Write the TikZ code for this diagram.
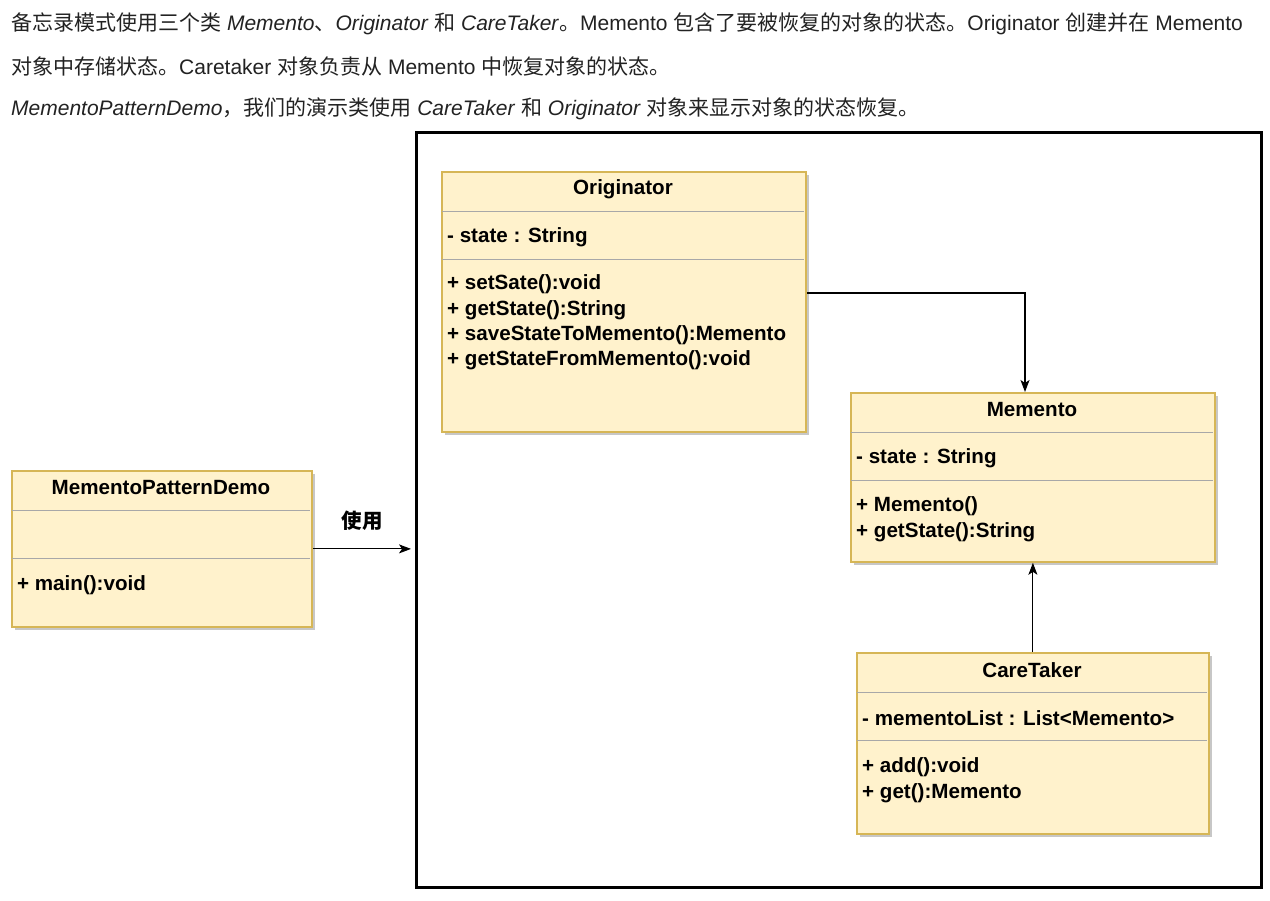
\documentclass[tikz,border=0pt]{standalone}
\usepackage{fontspec}
\setmainfont{Liberation Sans}
\newfontfamily\cjk{Noto Sans CJK SC}
\usetikzlibrary{arrows.meta,shadows,calc}
\definecolor{boxfill}{HTML}{FFF2CC}
\definecolor{boxline}{HTML}{D6B656}
\definecolor{sepline}{HTML}{A8A8A8}
\definecolor{txt}{HTML}{222222}
\begin{document}
\begin{tikzpicture}[x=1pt,y=-1pt,
  cls/.style={draw=boxline, fill=boxfill, line width=1.8pt, anchor=north west, inner sep=0pt,
    drop shadow={shadow xshift=3pt, shadow yshift=-3pt, fill=black!22, opacity=1}},
  sepl/.style={draw=sepline, line width=0.8pt},
  ctitle/.style={font=\fontsize{20.6}{24}\selectfont\bfseries, inner sep=0pt},
  cmem/.style={font=\fontsize{20.6}{24}\selectfont\bfseries, inner sep=0pt, anchor=west},
  htext/.style={font=\fontsize{21}{25}\selectfont, text=txt, inner sep=0pt, anchor=west},
  arr/.style={-{Stealth[length=12pt,width=9pt,inset=3pt]}, line width=1.1pt}]
\useasboundingbox (0,0) rectangle (1270,901);
\fill[white] (0,0) rectangle (1270,901);

% header text
\node[htext] (h1) at (11,24) {{\cjk 备忘录模式使用三个类} \textit{Memento}{\cjk 、}\textit{Originator} {\cjk 和} \textit{CareTaker}{\cjk 。}Memento {\cjk 包含了要被恢复的对象的状态。}Originator {\cjk 创建并在} Memento};
\node[htext] (h2) at (11,67) {{\cjk 对象中存储状态。}Caretaker {\cjk 对象负责从} Memento {\cjk 中恢复对象的状态。}};
\node[htext] (h3) at (11,109) {\textit{MementoPatternDemo}{\cjk ，我们的演示类使用} \textit{CareTaker} {\cjk 和} \textit{Originator} {\cjk 对象来显示对象的状态恢复。}};

% frame
\node[draw=black, line width=2.6pt, minimum width=845pt, minimum height=755pt, anchor=north west, inner sep=0pt] (frame) at (415,131) {};

% Originator
\node[cls, minimum width=364pt, minimum height=260pt] (orig) at (441,171) {};
\draw[sepl] (442,211) -- (804,211);
\draw[sepl] (442,259) -- (804,259);
\node[ctitle] (origT) at (623,189) {Originator};
\node[cmem] (orig1) at (447,237) {- state : String};
\node[cmem] (orig2) at (447,284) {+ setSate():void};
\node[cmem] (orig3) at (447,310) {+ getState():String};
\node[cmem] (orig4) at (447,335) {+ saveStateToMemento():Memento};
\node[cmem] (orig5) at (447,360) {+ getStateFromMemento():void};

% Memento
\node[cls, minimum width=364pt, minimum height=169pt] (mem) at (850,392) {};
\draw[sepl] (851,432) -- (1213,432);
\draw[sepl] (851,480) -- (1213,480);
\node[ctitle] (memT) at (1032,410) {Memento};
\node[cmem] (mem1) at (856,458) {- state : String};
\node[cmem] (mem2) at (856,506) {+ Memento()};
\node[cmem] (mem3) at (856,532) {+ getState():String};

% CareTaker
\node[cls, minimum width=352pt, minimum height=181pt] (care) at (856,652) {};
\draw[sepl] (857,692) -- (1207,692);
\draw[sepl] (857,740) -- (1207,740);
\node[ctitle] (careT) at (1032,670) {CareTaker};
\node[cmem] (care1) at (862,718) {- mementoList : List<Memento>};
\node[cmem] (care2) at (862,767) {+ add():void};
\node[cmem] (care3) at (862,793) {+ get():Memento};

% MementoPatternDemo
\node[cls, minimum width=300pt, minimum height=156pt] (demo) at (11,470) {};
\draw[sepl] (12,510) -- (310,510);
\draw[sepl] (12,558) -- (310,558);
\node[ctitle] (demoT) at (161,488) {MementoPatternDemo};
\node[cmem] (demo1) at (17,585) {+ main():void};

% connectors
\coordinate (bend) at (1025,293);
\draw[arr] (orig.east |- bend) -- (bend) -- (bend |- mem.north);
\draw[arr] (care.north) -- (mem.south);
\draw[arr, shorten >=4pt] (demo.east) -- (frame.west |- demo.east);
\node[font=\fontsize{20.5}{24}\selectfont\cjk\bfseries, inner sep=0pt] (uselbl) at (362,521) {使用};
\end{tikzpicture}
\end{document}
